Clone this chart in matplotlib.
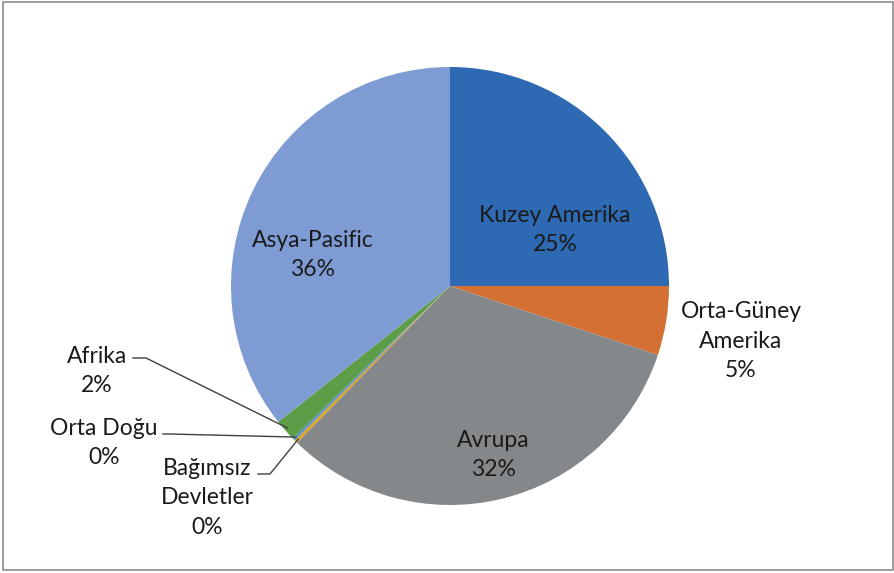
import numpy as np
import matplotlib
matplotlib.use("Agg")
import matplotlib.pyplot as plt
from matplotlib.patches import Rectangle

regions = ["Kuzey Amerika", "Orta-Güney Amerika", "Avrupa", "Bağımsız Devletler",
           "Orta Doğu", "Afrika", "Asya-Pasific"]
shares = [25.0, 5.1, 32.2, 0.25, 0.2, 1.6, 35.65]
display_labels = ["Kuzey Amerika", "Orta-Güney\nAmerika", "Avrupa", "Bağımsız\nDevletler",
                  "Orta Doğu", "Afrika", "Asya-Pasific"]
colors = ["#2E69B4", "#D47034", "#84888A", "#D9A52E", "#5B8FC9", "#5E9D48", "#7F9BD3"]

W, H = 895, 573
fig = plt.figure(figsize=(W / 100, H / 100), dpi=100)
plt.rcParams['font.family'] = ['Lato', 'DejaVu Sans']

cx, cy, r = 450, 286, 219
ax = fig.add_axes([(cx - r) / W, (H - cy - r) / H, 2 * r / W, 2 * r / H])
wedges, _ = ax.pie(shares, colors=colors, startangle=90, counterclock=False,
                   radius=1.0, wedgeprops=dict(linewidth=0))
ax.set_xlim(-1, 1)
ax.set_ylim(-1, 1)
ax.set_aspect('equal')
ax.axis('off')

def px2d(px, py):
    return (px - cx) / r, (cy - py) / r

total = sum(shares)
pct = [f"{round(s / total * 100 + 1e-9):.0f}%" for s in shares]

# label positions (pixel centres of text block)
label_pos = {
    0: (555, 230),
    1: (741, 341),
    2: (493, 455),
    3: (207, 498),
    4: (104, 443),
    5: (97, 371),
    6: (313, 255),
}
fs = 16.5
for i, (px, py) in label_pos.items():
    x, y = px2d(px, py)
    ax.text(x, y, f"{display_labels[i]}\n{pct[i]}", ha='center', va='center',
            fontsize=fs, color='#1a1a1a', linespacing=1.5, clip_on=False)

# leader lines: (start pixel, elbow pixel) -> wedge point
leaders = {
    5: ((133, 358), (146, 358)),
    4: ((163, 434), (170, 434)),
    3: ((258, 474), (270, 474)),
}
for i, (p0, p1) in leaders.items():
    w = wedges[i]
    th = np.deg2rad((w.theta1 + w.theta2) / 2)
    ex, ey = 0.985 * np.cos(th), 0.985 * np.sin(th)
    x0, y0 = px2d(*p0)
    x1, y1 = px2d(*p1)
    ax.plot([x0, x1, ex], [y0, y1, ey], color='#404040', lw=1.0, clip_on=False)

fig.patches.append(Rectangle((3 / W, (H - 570) / H), 890 / W, 568 / H,
                             transform=fig.transFigure, fill=False,
                             edgecolor='#8c8c8c', lw=1.2))

fig.savefig("out.png", dpi=100)
